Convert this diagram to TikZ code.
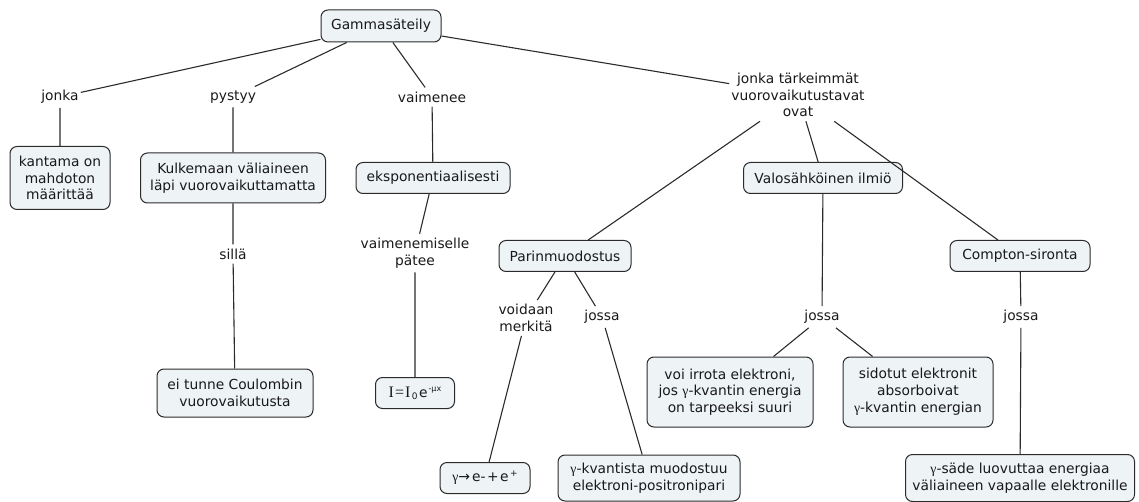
\documentclass[tikz,border=0pt]{standalone}
\usepackage{fontspec}
\setmainfont{DejaVu Sans}
\newfontfamily\serifgreek{Liberation Serif}
\definecolor{boxfill}{HTML}{EEF3F6}
\definecolor{edgecol}{HTML}{2B2B2B}
\newcommand{\gam}{{\serifgreek γ}}
\begin{document}
\begin{tikzpicture}[x=1pt,y=-1pt,
  every node/.style={font=\fontsize{13.8}{16.8}\selectfont, align=center, text=black!90},
  conc/.style={draw=edgecol, fill=boxfill, rounded corners=7pt, line width=1pt, inner sep=2pt},
  lbl/.style={inner xsep=2pt, inner ysep=4pt},
  link/.style={draw=edgecol, line width=1.1pt}]
\useasboundingbox (0,0) rectangle (1139,502);

% concepts
\node[conc, minimum width=120, minimum height=32] (gamma) at (381,26) {Gammasäteily};
\node[conc, minimum width=100, minimum height=63] (range) at (60,178) {kantama on\\mahdoton\\määrittää};
\node[conc, minimum width=185, minimum height=50] (pass) at (233,178) {Kulkemaan väliaineen\\läpi vuorovaikuttamatta};
\node[conc, minimum width=154, minimum height=31] (expo) at (433,178) {eksponentiaalisesti};
\node[conc, minimum width=156, minimum height=48] (coul) at (235,393) {ei tunne Coulombin\\vuorovaikutusta};
\node[conc, minimum width=79, minimum height=31] (law) at (415,393)
  {{\serifgreek\fontsize{16}{16}\selectfont I\kern1pt=\kern1pt I}\kern1.5pt{\fontsize{9}{9}\selectfont\raisebox{-2pt}{0}}\kern1.5pt e\kern1pt{\fontsize{8}{8}\selectfont\raisebox{6pt}{-μx}}};
\node[conc, minimum width=159, minimum height=31] (photo) at (823,178) {Valosähköinen ilmiö};
\node[conc, minimum width=132, minimum height=31] (pair) at (565,256) {Parinmuodostus};
\node[conc, minimum width=140, minimum height=31] (compt) at (1020,256) {Compton-sironta};
\node[conc, minimum width=90, minimum height=31] (react) at (485,478)
  {\gam{\fontsize{14}{14}\selectfont →}\kern2pt e-\kern1.5pt+\kern1.5pt e\kern1.5pt{\fontsize{9}{9}\selectfont\raisebox{5pt}{+}}};
\node[conc, minimum width=182, minimum height=46] (pairres) at (649,478) {\gam-kvantista muodostuu\\elektroni-positronipari};
\node[conc, minimum width=166, minimum height=70] (free) at (730,392) {voi irrota elektroni,\\jos \gam-kvantin energia\\on tarpeeksi suuri};
\node[conc, minimum width=150, minimum height=70] (bound) at (918,392) {sidotut elektronit\\absorboivat\\\gam-kvantin energian};
\node[conc, minimum width=229, minimum height=47] (scat) at (1020,478) {\gam-säde luovuttaa energiaa\\väliaineen vapaalle elektronille};

% linking phrases
\node[lbl] (l1) at (60,97) {jonka};
\node[lbl] (l2) at (233,97) {pystyy};
\node[lbl] (l3) at (432,97) {vaimenee};
\node[lbl] (l4) at (798,95) {jonka tärkeimmät\\vuorovaikutustavat\\ovat};
\node[lbl] (l5) at (233,254) {sillä};
\node[lbl] (l6) at (415,253) {vaimenemiselle\\pätee};
\node[lbl] (l7) at (526,318) {voidaan\\merkitä};
\node[lbl] (l8) at (602,317) {jossa};
\node[lbl] (l9) at (822,317) {jossa};
\node[lbl] (l10) at (1021,317) {jossa};

% connections
\path[link] (gamma) -- (l1) (l1) -- (range);
\path[link] (gamma) -- (l2) (l2) -- (pass) (pass) -- (l5) (l5) -- (coul);
\path[link] (gamma) -- (l3) (l3) -- (expo) (expo) -- (l6) (l6) -- (law);
\path[link] (gamma) -- (l4);
\path[link] (l4) -- (pair) (l4) -- (photo) (l4) -- (compt);
\path[link] (pair) -- (l7) (l7) -- (react) (pair) -- (l8) (l8) -- (pairres);
\path[link] (photo) -- (l9) (l9) -- (free) (l9) -- (bound);
\path[link] (compt) -- (l10) (l10) -- (scat);
\end{tikzpicture}
\end{document}
